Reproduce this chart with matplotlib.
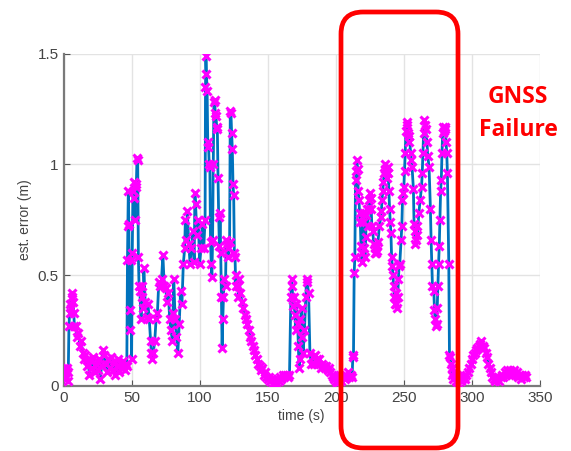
import matplotlib
matplotlib.use('Agg')
import matplotlib.pyplot as plt
from matplotlib.patches import FancyBboxPatch
from matplotlib.transforms import IdentityTransform

# estimated error over time
time_s = [
    0, 0.5, 1, 1.5, 2, 2.5, 3, 3.5, 4, 4.5, 5, 5.5, 6, 6.5, 7, 7.5, 8, 9, 10, 11,
    12, 13, 14, 15, 16, 17, 18, 19, 20, 21, 22, 23, 24, 25, 26, 27, 28, 29, 30, 31,
    32, 33, 34, 35, 36, 37, 38, 39, 40, 41, 42, 43, 44, 45, 46, 46.5, 47, 47.3, 47.6, 48,
    48.5, 49, 49.5, 50, 50.5, 51, 51.5, 52, 52.5, 53, 53.5, 54, 54.5, 55, 55.5, 56, 57, 57.5, 58, 58.5,
    59, 60, 61, 62, 63, 64, 64.5, 65, 66, 67, 68, 69, 70, 71, 72, 73, 74, 75, 76, 77,
    78, 79, 80, 80.5, 81, 82, 83, 84, 85, 86, 87, 88, 89, 89.5, 90, 91, 92, 93, 94, 95,
    96, 96.5, 97, 98, 99, 100, 101, 102, 103, 104, 104.3, 104.6, 105, 105.5, 106, 106.5, 107, 107.5, 108, 108.5,
    109, 109.5, 110, 110.5, 111, 111.5, 112, 112.5, 113, 113.5, 114, 114.5, 115, 115.5, 116, 116.5, 117, 117.5, 118, 119,
    119.5, 120, 120.5, 121, 122, 122.5, 123, 123.5, 124, 124.5, 125, 125.5, 126, 126.5, 127, 128, 128.5, 129, 130, 131,
    132, 133, 134, 135, 136, 137, 138, 139, 140, 141, 142, 143, 144, 145, 146, 147, 148, 149, 150, 151,
    152, 153, 154, 155, 156, 157, 158, 159, 160, 161, 162, 163, 164, 165, 166, 167, 167.5, 168, 168.5, 169,
    170, 170.5, 171, 172, 172.5, 173, 173.5, 174, 175, 175.5, 176, 177, 178, 178.5, 179, 180, 181, 182, 183, 184,
    185, 186, 187, 188, 189, 190, 191, 192, 193, 194, 195, 196, 197, 198, 199, 200, 201, 202, 203, 204,
    205, 206, 207, 208, 209, 210, 211, 212, 212.5, 213, 213.5, 214, 214.5, 215, 215.5, 216, 216.5, 217, 217.5, 218,
    218.5, 219, 219.5, 220, 220.5, 221, 221.5, 222, 222.5, 223, 223.5, 224, 224.5, 225, 225.5, 226, 226.5, 227, 228, 228.5,
    229, 229.5, 230, 230.5, 231, 232, 233, 233.5, 234, 234.5, 235, 235.5, 236, 236.5, 237, 237.5, 238, 238.5, 239, 239.5,
    240, 240.5, 241, 241.5, 242, 242.5, 243, 243.5, 244, 244.5, 245, 245.5, 246, 246.5, 247, 248, 248.5, 249, 249.5, 250,
    250.5, 251, 251.5, 252, 252.5, 253, 253.5, 254, 255, 255.5, 256, 257, 257.5, 258, 258.5, 259, 259.5, 260, 261, 262,
    263, 263.5, 264, 264.5, 265, 265.5, 266, 267, 267.5, 268.5, 269.5, 270, 270.5, 271, 272, 272.5, 273, 273.5, 274, 274.5,
    275, 275.5, 276, 276.5, 277, 277.5, 278, 278.5, 279, 279.5, 280, 280.5, 281, 281.5, 282, 283, 283.5, 284, 284.5, 285,
    285.5, 286, 287, 288, 289, 290, 291, 292, 293, 294, 295, 296, 297, 298, 299, 300, 301, 302, 303, 304,
    305, 306, 307, 308, 309, 310, 311, 312, 313, 314, 315, 316, 317, 318, 319, 320, 321, 322, 323, 324,
    325, 326, 327, 328, 329, 330, 331, 332, 333, 334, 335, 336, 337, 338, 339, 340,
]
est_err = [
    0.05, 0.08, 0.03, 0.07, 0.04, 0.08, 0.02, 0.06, 0.27, 0.33, 0.37, 0.35, 0.40, 0.42, 0.38, 0.33, 0.27, 0.27, 0.22, 0.24,
    0.18, 0.20, 0.15, 0.12, 0.14, 0.09, 0.12, 0.05, 0.11, 0.08, 0.13, 0.06, 0.10, 0.07, 0.12, 0.03, 0.09, 0.16, 0.14, 0.10,
    0.06, 0.12, 0.08, 0.13, 0.07, 0.11, 0.05, 0.09, 0.12, 0.06, 0.10, 0.08, 0.11, 0.07, 0.10, 0.09, 0.57, 0.72, 0.88, 0.73,
    0.34, 0.25, 0.57, 0.12, 0.60, 0.88, 0.92, 0.85, 0.75, 0.90, 0.91, 1.03, 1.02, 0.58, 0.45, 0.43, 0.30, 0.40, 0.45, 0.35,
    0.53, 0.38, 0.31, 0.37, 0.30, 0.20, 0.15, 0.12, 0.15, 0.20, 0.30, 0.33, 0.47, 0.45, 0.48, 0.59, 0.45, 0.44, 0.38, 0.42,
    0.30, 0.25, 0.20, 0.33, 0.48, 0.30, 0.22, 0.15, 0.28, 0.43, 0.37, 0.55, 0.62, 0.75, 0.66, 0.79, 0.64, 0.55, 0.62, 0.70,
    0.56, 0.87, 0.82, 0.68, 0.75, 0.55, 0.62, 0.73, 0.62, 0.75, 1.35, 1.49, 1.41, 1.33, 1.08, 1.10, 1.00, 0.99, 0.65, 0.55,
    0.49, 0.66, 1.00, 1.28, 1.29, 1.23, 1.22, 1.17, 1.16, 0.94, 0.76, 0.63, 0.78, 0.60, 0.40, 0.17, 0.30, 0.40, 0.48, 0.45,
    0.66, 0.64, 0.62, 0.58, 0.65, 1.24, 1.23, 1.14, 1.07, 0.91, 0.86, 0.60, 0.58, 0.45, 0.50, 0.45, 0.40, 0.48, 0.42, 0.38,
    0.35, 0.32, 0.30, 0.28, 0.25, 0.22, 0.20, 0.18, 0.16, 0.14, 0.12, 0.10, 0.09, 0.07, 0.08, 0.05, 0.06, 0.04, 0.03, 0.04,
    0.02, 0.03, 0.01, 0.02, 0.01, 0.03, 0.02, 0.04, 0.03, 0.05, 0.04, 0.05, 0.05, 0.04, 0.05, 0.40, 0.48, 0.45, 0.36, 0.40,
    0.32, 0.25, 0.37, 0.28, 0.18, 0.08, 0.12, 0.30, 0.35, 0.22, 0.15, 0.25, 0.40, 0.48, 0.47, 0.42, 0.15, 0.10, 0.13, 0.10,
    0.14, 0.12, 0.10, 0.12, 0.08, 0.10, 0.09, 0.08, 0.09, 0.07, 0.08, 0.06, 0.05, 0.04, 0.03, 0.02, 0.01, 0.03, 0.05, 0.02,
    0.04, 0.05, 0.03, 0.04, 0.06, 0.04, 0.05, 0.04, 0.13, 0.14, 0.51, 0.58, 0.93, 0.97, 1.02, 0.98, 0.88, 0.84, 0.78, 0.74,
    0.63, 0.56, 0.60, 0.74, 0.78, 0.62, 0.58, 0.67, 0.77, 0.80, 0.72, 0.80, 0.84, 0.87, 0.85, 0.80, 0.72, 0.70, 0.64, 0.60,
    0.62, 0.60, 0.63, 0.61, 0.65, 0.72, 0.76, 0.79, 0.84, 0.88, 0.92, 0.96, 1.00, 0.98, 0.97, 0.94, 0.99, 0.96, 0.88, 0.80,
    0.74, 0.69, 0.58, 0.54, 0.50, 0.45, 0.40, 0.37, 0.42, 0.37, 0.35, 0.40, 0.48, 0.54, 0.55, 0.66, 0.72, 0.84, 0.87, 0.90,
    0.97, 1.05, 1.15, 1.18, 1.19, 1.14, 1.10, 1.13, 1.05, 1.02, 0.99, 0.89, 0.73, 0.70, 0.64, 0.66, 0.72, 0.68, 0.78, 0.84,
    0.90, 0.96, 1.05, 1.14, 1.20, 1.18, 1.16, 1.10, 1.04, 0.99, 0.80, 0.66, 0.55, 0.45, 0.43, 0.34, 0.30, 0.27, 0.28, 0.35,
    0.45, 0.55, 0.63, 0.75, 0.88, 0.93, 1.05, 1.14, 1.17, 1.15, 1.17, 1.16, 1.10, 1.05, 0.96, 0.55, 0.14, 0.13, 0.10, 0.05,
    0.08, 0.03, 0.06, 0.02, 0.05, 0.01, 0.04, 0.02, 0.03, 0.04, 0.03, 0.05, 0.06, 0.08, 0.10, 0.12, 0.14, 0.15, 0.16, 0.17,
    0.18, 0.19, 0.20, 0.18, 0.17, 0.15, 0.13, 0.10, 0.08, 0.06, 0.04, 0.03, 0.02, 0.03, 0.04, 0.02, 0.04, 0.05, 0.04, 0.06,
    0.05, 0.07, 0.06, 0.07, 0.05, 0.06, 0.07, 0.05, 0.06, 0.04, 0.05, 0.03, 0.05, 0.04, 0.05, 0.04,
]

x_ticks = [0, 50, 100, 150, 200, 250, 300, 350]
y_ticks = [0, 0.5, 1, 1.5]
y_tick_labels = ['0', '0.5', '1', '1.5']

plt.rcParams['font.family'] = ['Liberation Sans', 'DejaVu Sans']

W, H = 571, 451
fig = plt.figure(figsize=(W / 100, H / 100), dpi=100)
ax = fig.add_axes([63.5 / W, 1 - 385.7 / H, (540 - 63.5) / W, (385.7 - 53.7) / H])

ax.plot(time_s, est_err, color='#0072BD', lw=2, marker='x', ms=5.5,
        mec='#FF00FF', mew=2.2, zorder=3)

ax.set_xlim(0, 350)
ax.set_ylim(0, 1.5)
ax.set_xticks(x_ticks)
ax.set_yticks(y_ticks)
ax.set_yticklabels(y_tick_labels)
ax.grid(True, color='#e3e3e3', lw=1)
ax.set_axisbelow(True)
for s in ['top', 'right']:
    ax.spines[s].set_visible(False)
for s in ['left', 'bottom']:
    ax.spines[s].set_color('#7a7a7a')
    ax.spines[s].set_linewidth(1.6)
ax.tick_params(direction='in', length=4, color='#555555', labelcolor='#444444',
               labelsize=11)
ax.set_xlabel('time (s)', fontsize=10, color='#444444', labelpad=3)
ax.set_ylabel('est. error (m)', fontsize=10, color='#444444', labelpad=4)

# red rounded box marking the outage (drawn in pixel coords)
box = FancyBboxPatch((341, H - 448), 458 - 341, 448 - 12,
                     boxstyle='round,pad=0,rounding_size=22',
                     fill=False, ec='#FF0000', lw=3.4,
                     transform=IdentityTransform(), zorder=10)
fig.add_artist(box)

fig.text(518 / W, 1 - 97 / H, 'GNSS', color='#FF0000', fontsize=16.5,
         fontweight='bold', family=['Open Sans', 'DejaVu Sans'], ha='center', va='center')
fig.text(518 / W, 1 - 130 / H, 'Failure', color='#FF0000', fontsize=16.5,
         fontweight='bold', family=['Open Sans', 'DejaVu Sans'], ha='center', va='center')

fig.savefig('out.png', dpi=100)
